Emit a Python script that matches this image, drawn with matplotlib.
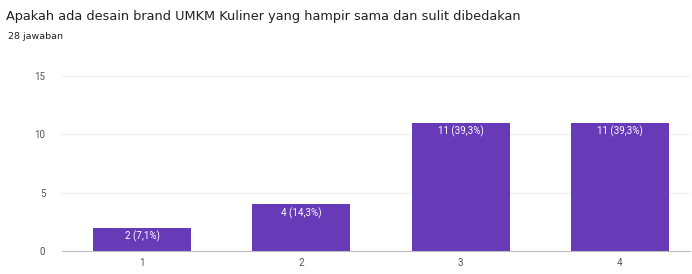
import matplotlib
matplotlib.use("Agg")
import matplotlib.pyplot as plt

categories = ["1", "2", "3", "4"]
counts = [2, 4, 11, 11]
bar_labels = ["2 (7,1%)", "4 (14,3%)", "11 (39,3%)", "11 (39,3%)"]
yticks = [0, 5, 10, 15]
title = "Apakah ada desain brand UMKM Kuliner yang hampir sama dan sulit dibedakan"
subtitle = "28 jawaban"

plt.rcParams['font.family'] = ['Roboto', 'DejaVu Sans']
W, H = 692, 274
fig = plt.figure(figsize=(W/100, H/100), dpi=100)
fig.patch.set_facecolor("white")

left_px, right_px, top_px, bottom_px = 62, 690, 76, 251
ax = fig.add_axes([left_px/W, 1-bottom_px/H, (right_px-left_px)/W, (bottom_px-top_px)/H])

x = list(range(len(categories)))
bars = ax.bar(x, counts, width=0.615, color="#673ab7", zorder=3)
for b, lab in zip(bars, bar_labels):
    ax.text(b.get_x()+b.get_width()/2, b.get_height()-0.25, lab, ha="center", va="top",
            color="white", fontsize=7, zorder=4)

spacing = 159
ax.set_xlim(-(142-left_px)/spacing, 3 + (right_px-620)/spacing)
ax.set_ylim(0, 15)
ax.set_yticks(yticks)
ax.set_xticks(x)
ax.set_xticklabels(categories)
ax.grid(axis="y", color="#eeeeee", linewidth=0.8, zorder=0)
for s in ["top", "right", "left"]:
    ax.spines[s].set_visible(False)
ax.spines["bottom"].set_color("#bdbdbd")
ax.spines["bottom"].set_zorder(5)
ax.tick_params(axis="both", length=0, labelsize=7, labelcolor="#555555")
ax.tick_params(axis="y", pad=12)
ax.tick_params(axis="x", pad=5)

fig.text(6/W, 1-20/H, title, fontsize=9.3, color="#212121", va="baseline", ha="left",
         family=['DejaVu Sans'])
fig.text(8/W, 1-39/H, subtitle, fontsize=6.8, color="#212121", va="baseline", ha="left",
         family=['DejaVu Sans'])

fig.savefig("out.png", dpi=100, facecolor="white")
